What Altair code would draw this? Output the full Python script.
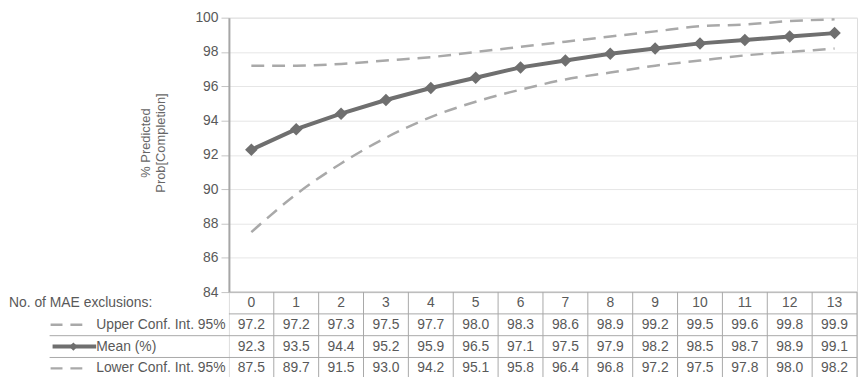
import altair as alt
import pandas as pd

# ---- data ----
exclusions = list(range(14))
upper = [97.2, 97.2, 97.3, 97.5, 97.7, 98.0, 98.3, 98.6, 98.9, 99.2, 99.5, 99.6, 99.8, 99.9]
mean = [92.3, 93.5, 94.4, 95.2, 95.9, 96.5, 97.1, 97.5, 97.9, 98.2, 98.5, 98.7, 98.9, 99.1]
lower = [87.5, 89.7, 91.5, 93.0, 94.2, 95.1, 95.8, 96.4, 96.8, 97.2, 97.5, 97.8, 98.0, 98.2]
header_label = "No. of MAE exclusions:"
series_labels = ["Upper Conf. Int. 95%", "Mean (%)", "Lower Conf. Int. 95%"]
y_ticks = [84, 86, 88, 90, 92, 94, 96, 98, 100]
y_title = ["% Predicted", "Prob[Completion]"]

FONT = "Liberation Sans"
MEAN_C = "#6f6f6f"
CI_C = "#a9a9a9"
TXT = "#595959"
LINE_C = "#a8a8a8"

W = 634
H = 277
TH = 88  # table height (4 rows)

df = pd.DataFrame({"x": exclusions, "upper": upper, "mean": mean, "lower": lower})

xs = alt.Scale(domain=[-0.5, 13.5], nice=False, zero=False)
ys = alt.Scale(domain=[84, 100], nice=False, zero=False)
tys = alt.Scale(domain=[0, 4], reverse=True, nice=False, zero=False)

y_axis = alt.Axis(
    values=y_ticks, grid=True, gridColor="#e6e6e6", gridWidth=1,
    domainColor="#a6a6a6", domainWidth=2, tickColor="#c4c4c4", tickSize=8, tickWidth=1,
    labelFontSize=14, labelColor=TXT, labelFont=FONT, labelPadding=3,
    titleFont=FONT, titleFontSize=13, titleFontWeight="normal", titleColor="#666666",
    titlePadding=28, titleY=126,
)


def Y(field):
    return alt.Y(field, scale=ys, axis=y_axis, title=y_title)


X = alt.X("x:Q", scale=xs, axis=None)

base = alt.Chart(df)
upper_line = base.mark_line(color=CI_C, strokeWidth=2.5, strokeDash=[13, 8], interpolate="monotone").encode(x=X, y=Y("upper:Q"))
lower_line = base.mark_line(color=CI_C, strokeWidth=2.5, strokeDash=[13, 8], interpolate="monotone").encode(x=X, y=Y("lower:Q"))
mean_line = base.mark_line(color=MEAN_C, strokeWidth=4).encode(x=X, y=Y("mean:Q"))
mean_pts = base.mark_point(shape="diamond", filled=True, size=160, color=MEAN_C, opacity=1).encode(x=X, y=Y("mean:Q"))

top = alt.layer(upper_line, lower_line, mean_line, mean_pts).properties(width=W, height=H)

# ---- data table ----
cells = []
for i, xv in enumerate(exclusions):
    cells.append({"x": xv, "yc": 0.5, "txt": str(xv)})
    cells.append({"x": xv, "yc": 1.5, "txt": f"{upper[i]:.1f}"})
    cells.append({"x": xv, "yc": 2.5, "txt": f"{mean[i]:.1f}"})
    cells.append({"x": xv, "yc": 3.5, "txt": f"{lower[i]:.1f}"})
cells_df = pd.DataFrame(cells)

TY = lambda f: alt.Y(f, scale=tys, axis=None)
TX = lambda f: alt.X(f, scale=xs, axis=None)

cell_text = alt.Chart(cells_df).mark_text(font=FONT, fontSize=14, color=TXT, baseline="middle").encode(
    x=TX("x:Q"), y=TY("yc:Q"), text="txt:N")

vdiv = pd.DataFrame({"xb": [v + 0.5 for v in exclusions], "y0": 0, "y1": 4})
v_rules = alt.Chart(vdiv).mark_rule(color=LINE_C, strokeWidth=1).encode(
    x=TX("xb:Q"), y=TY("y0:Q"), y2="y1:Q")

hcols = pd.DataFrame({"yb": [0, 1], "x0": -0.5, "x1": 13.5})
h_rules = alt.Chart(hcols).mark_rule(color=LINE_C, strokeWidth=1).encode(
    x=TX("x0:Q"), x2="x1:Q", y=TY("yb:Q"))
hfull = pd.DataFrame({"yb": [2, 3]})
h_rules_full = alt.Chart(hfull).mark_rule(color=LINE_C, strokeWidth=1).encode(
    x=alt.value(-181), x2=alt.value(W), y=TY("yb:Q"))

lab_df = pd.DataFrame({"yc": [1.5, 2.5, 3.5], "txt": series_labels, "kind": ["ci", "mean", "ci"]})
head_df = pd.DataFrame({"yc": [0.5], "txt": [header_label]})
head_text = alt.Chart(head_df).mark_text(font=FONT, fontSize=14, color=TXT, align="left", baseline="middle").encode(
    x=alt.value(-222), y=TY("yc:Q"), text="txt:N")
row_text = alt.Chart(lab_df).mark_text(font=FONT, fontSize=14, color=TXT, align="left", baseline="middle").encode(
    x=alt.value(-134), y=TY("yc:Q"), text="txt:N")
ci_key = alt.Chart(lab_df).transform_filter(alt.datum.kind == "ci").mark_rule(
    color=CI_C, strokeWidth=2.5, strokeDash=[12, 8]).encode(
    x=alt.value(-180), x2=alt.value(-148), y=TY("yc:Q"))
mean_key = alt.Chart(lab_df).transform_filter(alt.datum.kind == "mean").mark_rule(
    color=MEAN_C, strokeWidth=4).encode(
    x=alt.value(-178), x2=alt.value(-134), y=TY("yc:Q"))
mean_key_pt = alt.Chart(lab_df).transform_filter(alt.datum.kind == "mean").mark_point(
    shape="diamond", filled=True, size=70, color=MEAN_C, opacity=1).encode(
    x=alt.value(-157), y=TY("yc:Q"))

table = alt.layer(v_rules, h_rules, h_rules_full, cell_text, head_text, row_text,
                  ci_key, mean_key, mean_key_pt).properties(width=W, height=TH)

chart = alt.vconcat(top, table, spacing=0, bounds="flush").properties(
    padding={"left": 0, "right": 0, "top": 0, "bottom": 0}
).configure_view(stroke=None).configure(font=FONT)

chart.save("out.html", embed_options={"renderer": "svg", "actions": False})
